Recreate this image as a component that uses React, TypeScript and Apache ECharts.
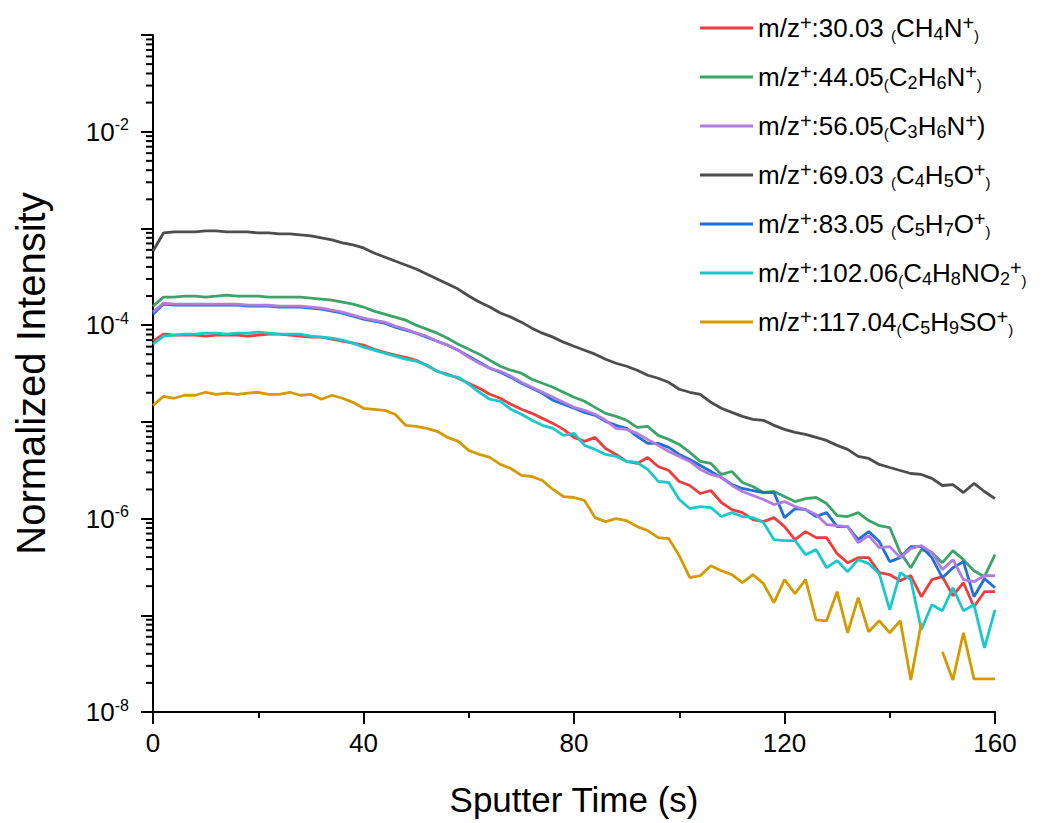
import React, { useEffect, useRef } from "react";
import * as echarts from "echarts";

const FONT = '"Liberation Sans", Arial, Helvetica, sans-serif';

// Sputter time (s)
const times = [
  0, 2, 4, 6, 8, 10, 12, 14, 16, 18,
  20, 22, 24, 26, 28, 30, 32, 34, 36, 38,
  40, 42, 44, 46, 48, 50, 52, 54, 56, 58,
  60, 62, 64, 66, 68, 70, 72, 74, 76, 78,
  80, 82, 84, 86, 88, 90, 92, 94, 96, 98,
  100, 102, 104, 106, 108, 110, 112, 114, 116, 118,
  120, 122, 124, 126, 128, 130, 132, 134, 136, 138,
  140, 142, 144, 146, 148, 150, 152, 154, 156, 158, 160,
];

// log10 of normalized intensity
const log10_CH4N = [
  -4.166, -4.093, -4.104, -4.104, -4.104, -4.114, -4.104, -4.104, -4.104, -4.114,
  -4.104, -4.093, -4.093, -4.104, -4.114, -4.124, -4.124, -4.145, -4.166, -4.186,
  -4.207, -4.249, -4.28, -4.311, -4.332, -4.363, -4.414, -4.477, -4.508, -4.549,
  -4.601, -4.653, -4.715, -4.756, -4.818, -4.87, -4.912, -4.964, -5.016, -5.078,
  -5.161, -5.202, -5.161, -5.275, -5.337, -5.409, -5.43, -5.368, -5.461, -5.503,
  -5.616, -5.658, -5.741, -5.71, -5.834, -5.907, -5.938, -6.01, -6.031, -5.99,
  -6.083, -6.218, -6.135, -6.197, -6.197, -6.363, -6.456, -6.404, -6.404, -6.559,
  -6.58, -6.642, -6.59, -6.808, -6.632, -6.601, -6.798, -6.663, -6.912, -6.756, -6.756,
];
const log10_C2H6N = [
  -3.803, -3.71, -3.71, -3.699, -3.699, -3.71, -3.699, -3.689, -3.699, -3.699,
  -3.699, -3.71, -3.71, -3.71, -3.71, -3.72, -3.73, -3.741, -3.761, -3.782,
  -3.813, -3.855, -3.886, -3.917, -3.948, -4.0, -4.041, -4.083, -4.135, -4.197,
  -4.249, -4.3, -4.363, -4.425, -4.466, -4.497, -4.559, -4.601, -4.642, -4.694,
  -4.746, -4.787, -4.85, -4.912, -4.943, -4.984, -5.057, -5.047, -5.14, -5.181,
  -5.233, -5.316, -5.409, -5.43, -5.544, -5.513, -5.627, -5.668, -5.73, -5.72,
  -5.772, -5.824, -5.793, -5.782, -5.845, -5.969, -5.979, -5.938, -6.021, -6.073,
  -6.093, -6.352, -6.508, -6.321, -6.352, -6.456, -6.332, -6.425, -6.539, -6.601, -6.373,
];
const log10_C3H6N = [
  -3.865, -3.772, -3.782, -3.782, -3.782, -3.782, -3.782, -3.782, -3.782, -3.793,
  -3.793, -3.793, -3.803, -3.803, -3.803, -3.813, -3.824, -3.844, -3.865, -3.896,
  -3.927, -3.948, -3.969, -4.01, -4.041, -4.083, -4.114, -4.166, -4.207, -4.259,
  -4.332, -4.394, -4.446, -4.477, -4.528, -4.591, -4.642, -4.694, -4.746, -4.798,
  -4.85, -4.881, -4.922, -4.984, -5.067, -5.078, -5.119, -5.181, -5.243, -5.306,
  -5.357, -5.409, -5.492, -5.544, -5.575, -5.658, -5.72, -5.762, -5.803, -5.855,
  -5.824, -5.876, -5.907, -5.959, -6.062, -6.073, -6.083, -6.249, -6.176, -6.3,
  -6.29, -6.404, -6.311, -6.28, -6.352, -6.528, -6.425, -6.632, -6.653, -6.591, -6.591,
];
const log10_C4H5O = [
  -3.233, -3.047, -3.036, -3.036, -3.036, -3.026, -3.026, -3.036, -3.036, -3.036,
  -3.047, -3.047, -3.057, -3.057, -3.067, -3.078, -3.098, -3.119, -3.15, -3.171,
  -3.202, -3.254, -3.295, -3.337, -3.378, -3.42, -3.471, -3.523, -3.575, -3.627,
  -3.699, -3.761, -3.813, -3.875, -3.917, -3.969, -4.031, -4.083, -4.124, -4.176,
  -4.218, -4.259, -4.3, -4.352, -4.394, -4.425, -4.466, -4.518, -4.549, -4.591,
  -4.663, -4.694, -4.715, -4.798, -4.86, -4.902, -4.943, -4.974, -4.984, -5.036,
  -5.078, -5.109, -5.13, -5.161, -5.192, -5.243, -5.285, -5.357, -5.378, -5.44,
  -5.472, -5.503, -5.534, -5.544, -5.585, -5.658, -5.648, -5.731, -5.637, -5.72, -5.793,
];
const log10_C5H7O = [
  -3.886, -3.782, -3.793, -3.793, -3.793, -3.793, -3.793, -3.793, -3.793, -3.803,
  -3.803, -3.803, -3.813, -3.813, -3.813, -3.824, -3.834, -3.855, -3.875, -3.907,
  -3.938, -3.958, -3.979, -4.021, -4.052, -4.083, -4.124, -4.166, -4.207, -4.259,
  -4.321, -4.383, -4.446, -4.487, -4.539, -4.601, -4.653, -4.704, -4.777, -4.818,
  -4.86, -4.902, -4.933, -4.995, -5.036, -5.067, -5.15, -5.223, -5.223, -5.264,
  -5.337, -5.389, -5.451, -5.513, -5.575, -5.648, -5.689, -5.71, -5.731, -5.731,
  -5.99, -5.897, -5.907, -5.979, -5.938, -6.083, -6.083, -6.218, -6.135, -6.238,
  -6.445, -6.404, -6.29, -6.29, -6.404, -6.611, -6.508, -6.445, -6.808, -6.622, -6.715,
];
const log10_C4H8NO2 = [
  -4.197, -4.114, -4.104, -4.093, -4.093, -4.083, -4.083, -4.093, -4.083, -4.083,
  -4.073, -4.083, -4.093, -4.093, -4.093, -4.114, -4.124, -4.135, -4.155, -4.186,
  -4.228, -4.259, -4.29, -4.321, -4.352, -4.373, -4.414, -4.477, -4.518, -4.539,
  -4.611, -4.694, -4.766, -4.787, -4.87, -4.922, -4.984, -5.036, -5.067, -5.14,
  -5.119, -5.243, -5.285, -5.337, -5.357, -5.409, -5.42, -5.492, -5.616, -5.627,
  -5.803, -5.896, -5.876, -5.886, -5.979, -5.938, -5.979, -5.99, -6.041, -6.218,
  -6.228, -6.228, -6.373, -6.321, -6.508, -6.435, -6.549, -6.425, -6.466, -6.57,
  -6.943, -6.559, -6.632, -7.15, -6.891, -6.953, -6.715, -6.953, -6.891, -7.337, -6.943,
];
const log10_C5H9SO = [
  -4.829, -4.736, -4.756, -4.725, -4.725, -4.694, -4.715, -4.704, -4.715, -4.704,
  -4.694, -4.715, -4.715, -4.694, -4.725, -4.715, -4.766, -4.725, -4.756, -4.798,
  -4.86, -4.87, -4.881, -4.922, -5.036, -5.047, -5.067, -5.098, -5.161, -5.202,
  -5.295, -5.337, -5.368, -5.44, -5.482, -5.554, -5.565, -5.606, -5.699, -5.772,
  -5.782, -5.813, -5.99, -6.031, -6.0, -6.021, -6.083, -6.124, -6.197, -6.207,
  -6.383, -6.611, -6.59, -6.487, -6.539, -6.58, -6.663, -6.58, -6.673, -6.87,
  -6.632, -6.777, -6.632, -7.047, -7.057, -6.756, -7.181, -6.818, -7.171, -7.057,
  -7.181, -7.057, -7.668, -7.078, null, -7.378, -7.668, -7.181, -7.658, -7.658, -7.658,
];

const seriesNames = [
  "m/z+:30.03 (CH4N+)",
  "m/z+:44.05(C2H6N+)",
  "m/z+:56.05(C3H6N+)",
  "m/z+:69.03 (C4H5O+)",
  "m/z+:83.05 (C5H7O+)",
  "m/z+:102.06(C4H8NO2+)",
  "m/z+:117.04(C5H9SO+)",
];
const legendRichLabels = [
  "{t|m/z}{sup|+}{t|:30.03 }{p|(}{t|CH}{sub|4}{t|N}{sup|+}{p|)}",
  "{t|m/z}{sup|+}{t|:44.05}{p|(}{t|C}{sub|2}{t|H}{sub|6}{t|N}{sup|+}{p|)}",
  "{t|m/z}{sup|+}{t|:56.05}{p|(}{t|C}{sub|3}{t|H}{sub|6}{t|N}{sup|+}{t|)}",
  "{t|m/z}{sup|+}{t|:69.03 }{p|(}{t|C}{sub|4}{t|H}{sub|5}{t|O}{sup|+}{p|)}",
  "{t|m/z}{sup|+}{t|:83.05 }{p|(}{t|C}{sub|5}{t|H}{sub|7}{t|O}{sup|+}{p|)}",
  "{t|m/z}{sup|+}{t|:102.06}{p|(}{t|C}{sub|4}{t|H}{sub|8}{t|NO}{sub|2}{sup|+}{p|)}",
  "{t|m/z}{sup|+}{t|:117.04}{p|(}{t|C}{sub|5}{t|H}{sub|9}{t|SO}{sup|+}{p|)}",
];
const seriesColors = ["#f03c3c", "#3ba468", "#b17be2", "#4d4d4d", "#1e6fd9", "#18c9cc", "#d49a00"];
const seriesLogs = [
  log10_CH4N,
  log10_C2H6N,
  log10_C3H6N,
  log10_C4H5O,
  log10_C5H7O,
  log10_C4H8NO2,
  log10_C5H9SO,
];
// drawing order (later on top): purple drawn above blue, cyan above red
const drawOrder = [0, 1, 3, 4, 2, 5, 6];

// y axis minor ticks (log decades)
const minorMantissas = [2, 3, 4, 5, 6, 7, 8, 9];
const minorDecades = [-8, -7, -6, -5, -4, -3, -2];
const labeledExponents = [-8, -6, -4, -2];

export default function App() {
  const ref = useRef<HTMLDivElement>(null);

  useEffect(() => {
    if (!ref.current) return;
    const chart = echarts.init(ref.current, undefined, { renderer: "svg" });

    const minorTickData: number[][] = [];
    minorDecades.forEach((d) => {
      minorMantissas.forEach((m) => {
        minorTickData.push([0, m * Math.pow(10, d)]);
      });
    });

    const lineSeries = drawOrder.map((i) => ({
      name: seriesNames[i],
      type: "line",
      showSymbol: false,
      symbol: "none",
      connectNulls: false,
      color: seriesColors[i],
      lineStyle: { width: 2.8, color: seriesColors[i] },
      data: times.map((t, k) => {
        const v = seriesLogs[i][k];
        return [t, v === null ? null : Math.pow(10, v)];
      }),
    }));

    const option: any = {
      animation: false,
      backgroundColor: "#ffffff",
      textStyle: { fontFamily: FONT },
      grid: { left: 153, right: 52, top: 35, bottom: 111, containLabel: false },
      legend: {
        data: seriesNames,
        orient: "vertical",
        left: 695,
        top: 8,
        itemWidth: 53,
        itemHeight: 3,
        itemGap: 19,
        icon: "rect",
        selectedMode: false,
        formatter: (name: string) => legendRichLabels[seriesNames.indexOf(name)],
        textStyle: {
          fontFamily: FONT,
          color: "#000",
          rich: {
            t: { fontFamily: FONT, fontSize: 26, lineHeight: 30, color: "#000", verticalAlign: "middle" },
            sup: { fontFamily: FONT, fontSize: 20, lineHeight: 15, color: "#000", verticalAlign: "top" },
            sub: { fontFamily: FONT, fontSize: 18, lineHeight: 14, color: "#000", verticalAlign: "bottom" },
            p: { fontFamily: FONT, fontSize: 15, lineHeight: 18, color: "#000", verticalAlign: "bottom" },
          },
        },
      },
      xAxis: {
        type: "value",
        min: 0,
        max: 160,
        interval: 40,
        name: "Sputter Time (s)",
        nameLocation: "middle",
        nameGap: 70,
        nameTextStyle: { fontFamily: FONT, fontSize: 35, color: "#000" },
        axisLine: { show: true, onZero: false, lineStyle: { color: "#000", width: 2 } },
        axisTick: { show: true, length: 12, lineStyle: { color: "#000", width: 2 } },
        minorTick: { show: true, splitNumber: 2, length: 6, lineStyle: { color: "#000", width: 2 } },
        axisLabel: { fontFamily: FONT, fontSize: 26, color: "#000", margin: 18 },
        splitLine: { show: false },
      },
      yAxis: {
        type: "log",
        logBase: 10,
        min: 1e-8,
        max: 1e-1,
        splitNumber: 7,
        name: "Normalized Intensity",
        nameLocation: "middle",
        nameGap: 102,
        nameTextStyle: { fontFamily: FONT, fontSize: 40, color: "#000" },
        axisLine: { show: true, lineStyle: { color: "#000", width: 2 } },
        axisTick: { show: true, length: 12, lineStyle: { color: "#000", width: 2 } },
        splitLine: { show: false },
        axisLabel: {
          margin: 24,
          color: "#000",
          formatter: (val: number) => {
            const e = Math.round(Math.log10(val));
            return labeledExponents.indexOf(e) >= 0 ? `{b|10}{e|${e}}` : "";
          },
          rich: {
            b: { fontFamily: FONT, fontSize: 26, lineHeight: 30, color: "#000", verticalAlign: "middle" },
            e: { fontFamily: FONT, fontSize: 16, lineHeight: 22, color: "#000", verticalAlign: "top" },
          },
        },
      },
      series: [
        {
          type: "custom",
          name: "minorTicks",
          silent: true,
          clip: false,
          data: minorTickData,
          renderItem: (_params: any, api: any) => {
            const pt = api.coord([api.value(0), api.value(1)]);
            return {
              type: "line",
              shape: { x1: pt[0] - 7, y1: pt[1], x2: pt[0], y2: pt[1] },
              style: { stroke: "#000", lineWidth: 2 },
            };
          },
          z: 1,
        },
        ...lineSeries,
      ],
    };

    chart.setOption(option);
    return () => chart.dispose();
  }, []);

  return (
    <div
      ref={ref}
      style={{ position: "fixed", left: 0, top: 0, width: 1047, height: 823, background: "#fff" }}
    />
  );
}
